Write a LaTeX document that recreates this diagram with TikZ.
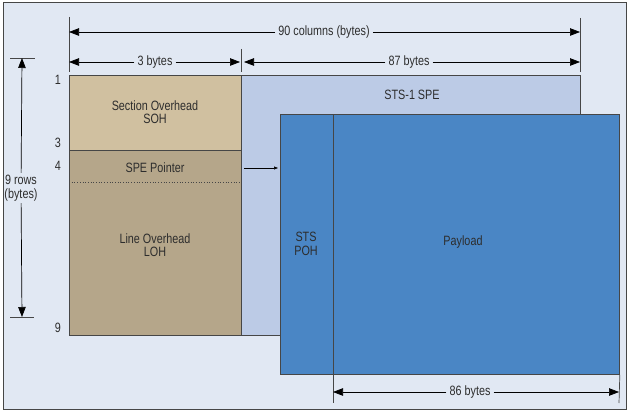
\documentclass[tikz,border=0pt]{standalone}
\usepackage{fontspec}
\setmainfont{Liberation Sans}[FakeStretch=0.8]
\usetikzlibrary{arrows.meta}
\definecolor{bgblue}{RGB}{225,232,243}
\definecolor{lighttan}{RGB}{208,192,160}
\definecolor{darktan}{RGB}{181,166,138}
\definecolor{speblue}{RGB}{188,203,230}
\definecolor{payblue}{RGB}{74,134,197}
\definecolor{edgegray}{RGB}{70,70,70}
\definecolor{textgray}{RGB}{45,45,45}

\begin{document}
\begin{tikzpicture}[x=1pt,y=-1pt,
    box/.style={draw=edgegray,line width=0.8pt,inner sep=0pt,anchor=north west},
    lbl/.style={text=textgray,align=center,font=\fontsize{13.5}{13.5}\selectfont},
    dimlbl/.style={lbl,inner xsep=3pt,inner ysep=1pt},
    dim/.style={draw=black,line width=0.7pt,-{Triangle[length=10pt,width=7.5pt]}},
    tick/.style={draw=edgegray,line width=0.7pt}]
  \useasboundingbox (0,0) rectangle (628,411);
  \draw[fill=bgblue,draw=edgegray,line width=1pt] (3,3) rectangle (626,409);

  \node[box,fill=speblue,minimum width=339pt,minimum height=260pt] (spe) at (241,75) {};
  \node[box,fill=lighttan,minimum width=172pt,minimum height=75pt] (soh) at (69,75) {};
  \node[box,fill=darktan,minimum width=172pt,minimum height=185pt] (loh) at (69,150) {};
  \draw[dotted,edgegray,line width=0.7pt] (69,182) -- (241,182);
  \node[box,fill=payblue,minimum width=53pt,minimum height=260pt] (poh) at (280,114) {};
  \node[box,fill=payblue,minimum width=286pt,minimum height=260pt] (pay) at (333,114) {};

  \node[lbl] (sohtxt) at (155,112) {Section Overhead\\SOH};
  \node[lbl] (ptr) at (155,168) {SPE Pointer};
  \node[lbl] (lohtxt) at (155,245) {Line Overhead\\LOH};
  \node[lbl] (spetxt) at (412,95) {STS-1 SPE};
  \node[lbl] (pohtxt) at (306,244) {STS\\POH};
  \node[lbl] (paytxt) at (463,242) {Payload};

  \node[lbl] (r1) at (58,80) {1};
  \node[lbl] (r3) at (58,143) {3};
  \node[lbl] (r4) at (58,166) {4};
  \node[lbl] (r9) at (58,328) {9};

  \draw[line width=0.6pt,-{Triangle[length=4pt,width=3pt]}]
        ([xshift=2pt]loh.east |- ptr) -- ([xshift=-2pt]poh.west |- ptr);

  \draw[tick] (69,17) -- (69,72);
  \draw[tick] (241,49) -- (241,72);
  \draw[tick] (580,18) -- (580,72);
  \coordinate (c90l) at (69,32);
  \coordinate (c90r) at (580,32);
  \coordinate (c3l) at (69,62);
  \coordinate (c3r) at (240,62);
  \coordinate (c87l) at (244,62);
  \coordinate (c87r) at (580,62);
  \node[dimlbl] (cols) at (324,32) {90 columns (bytes)};
  \node[dimlbl] (b3) at (155,62) {3 bytes};
  \node[dimlbl] (b87) at (409,62) {87 bytes};
  \draw[dim] (cols) -- (c90l);
  \draw[dim] (cols) -- (c90r);
  \draw[dim] (b3) -- (c3l);
  \draw[dim] (b3) -- (c3r);
  \draw[dim] (b87) -- (c87l);
  \draw[dim] (b87) -- (c87r);

  \draw[tick] (pay.south west) -- (333,403);
  \draw[tick] (pay.south east) -- (619,403);
  \coordinate (c86l) at (333,392);
  \coordinate (c86r) at (619,392);
  \node[dimlbl] (b86) at (470,392) {86 bytes};
  \draw[dim] (b86) -- (c86l);
  \draw[dim] (b86) -- (c86r);

  \draw[tick] (10,58) -- (35,58);
  \draw[tick] (10,317) -- (34,317);
  \coordinate (rtop) at (22,58);
  \coordinate (rbot) at (22,317);
  \node[lbl,inner sep=2pt] (rows) at (21,188) {9 rows\\(bytes)};
  \draw[dim] (rows) -- (rtop);
  \draw[dim] (rows) -- (rbot);
\end{tikzpicture}
\end{document}
